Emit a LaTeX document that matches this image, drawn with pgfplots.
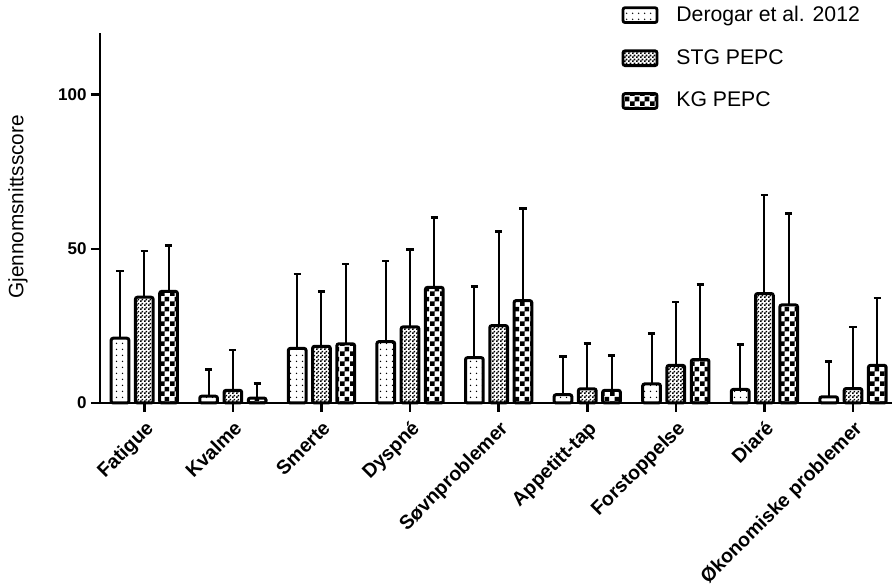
\documentclass[border=0pt]{standalone}
\usepackage{fontspec}
\setmainfont{Liberation Sans}
\usepackage{pgfplots}
\usepackage{pgfplotstable}
\pgfplotsset{compat=1.18}
\usetikzlibrary{patterns,patterns.meta}

\pgfdeclarepattern{
  name=sparsedots, type=uncolored,
  bottom left={\pgfpoint{0pt}{0pt}}, top right={\pgfpoint{3pt}{3pt}},
  tile size={\pgfpoint{3pt}{3pt}},
  code={\pgfpathcircle{\pgfpoint{1.5pt}{1.5pt}}{0.45pt}\pgfusepath{fill}}
}
\pgfdeclarepattern{
  name=finecheck, type=uncolored,
  bottom left={\pgfpoint{0pt}{0pt}}, top right={\pgfpoint{2pt}{2pt}},
  tile size={\pgfpoint{2pt}{2pt}},
  code={\pgfpathrectangle{\pgfpoint{0pt}{0pt}}{\pgfpoint{1pt}{1pt}}\pgfpathrectangle{\pgfpoint{1pt}{1pt}}{\pgfpoint{1pt}{1pt}}\pgfusepath{fill}}
}
\pgfdeclarepattern{
  name=bigcheck, type=uncolored,
  bottom left={\pgfpoint{0pt}{0pt}}, top right={\pgfpoint{5pt}{5pt}},
  tile size={\pgfpoint{5pt}{5pt}},
  code={\pgfpathrectangle{\pgfpoint{0pt}{0pt}}{\pgfpoint{2.5pt}{2.5pt}}\pgfpathrectangle{\pgfpoint{2.5pt}{2.5pt}}{\pgfpoint{2.5pt}{2.5pt}}\pgfusepath{fill}}
}

% bar position, value, upper error
\pgfplotstableread{
x d de
-0.274 21.0 21.8
0.726 2.2 8.7
1.726 17.7 24.2
2.726 19.9 26.1
3.726 14.7 23.0
4.726 2.7 12.3
5.726 6.2 16.4
6.726 4.4 14.5
7.726 2.0 11.5
}\derogar
\pgfplotstableread{
x d de
0 34.3 15.0
1 4.1 13.1
2 18.4 17.7
3 24.7 25.0
4 25.1 30.6
5 4.6 14.7
6 12.2 20.6
7 35.5 31.9
8 4.7 20.0
}\stg
\pgfplotstableread{
x d de
0.274 36.2 14.9
1.274 1.6 4.8
2.274 19.2 25.9
3.274 37.5 22.6
4.274 33.2 29.8
5.274 4.1 11.3
6.274 14.1 24.3
7.274 31.8 29.7
8.274 12.2 21.9
}\kg

\pgfplotsset{
  mybar/.style={
    ybar, bar width=0.2, bar shift=0pt, draw=black, line width=1.5pt, rounded corners=1pt,
    legend image code/.code={\draw[##1, line width=1.4pt, rounded corners=1pt] (0pt,-3.7pt) rectangle (17pt,3.7pt);},
    /pgfplots/error bars/y dir=plus,
    /pgfplots/error bars/y explicit,
    /pgfplots/error bars/error bar style={line width=1pt, black, solid, rounded corners=0pt},
    /pgfplots/error bars/error mark options={black, line width=1.3pt, mark size=1.8pt, rotate=90},
  },
}

\begin{document}
\begin{tikzpicture}
\begin{axis}[
  scale only axis, width=396pt, height=185pt,
  xmin=-0.5, xmax=8.44, ymin=0, ymax=120,
  axis lines=left, axis line style={-, line width=1.25pt, black},
  xtick={0,...,8},
  xticklabels={Fatigue,Kvalme,Smerte,Dyspné,Søvnproblemer,Appetitt-tap,Forstoppelse,Diaré,Økonomiske problemer},
  ytick={0,50,100},
  tick align=outside, major tick length=4.5pt,
  tick style={line width=1.25pt, black},
  /pgf/number format/assume math mode=true,
  x tick label style={rotate=45, anchor=north east, font=\fontsize{9.8}{11}\selectfont\bfseries, inner sep=2.5pt},
  y tick label style={font=\fontsize{8.5}{10}\selectfont\bfseries, inner sep=2pt},
  ylabel={Gjennomsnittsscore},
  every axis y label/.style={at={(axis description cs:-0.1035,0.53)}, rotate=90, anchor=center, font=\fontsize{10.4}{12}\selectfont},
  legend style={at={(axis description cs:0.965,1.085)}, anchor=north east, draw=none, fill=none,
    font=\fontsize{10.6}{12.7}\selectfont, row sep=8.5pt, inner sep=0pt, cells={anchor=west},
    /tikz/every odd column/.append style={column sep=7pt}},
  clip=false,
]
\addplot[mybar, pattern=sparsedots] table[x=x, y=d, y error=de] {\derogar};
\addplot[mybar, pattern=finecheck] table[x=x, y=d, y error=de] {\stg};
\addplot[mybar, pattern=bigcheck] table[x=x, y=d, y error=de] {\kg};
\legend{Derogar et al. 2012, STG PEPC, KG PEPC}
\end{axis}
\pgfresetboundingbox
\path[use as bounding box] ([xshift=-50pt,yshift=-91.5pt]current axis.south west) rectangle ([yshift=16.5pt]current axis.north east);
\end{tikzpicture}
\end{document}
